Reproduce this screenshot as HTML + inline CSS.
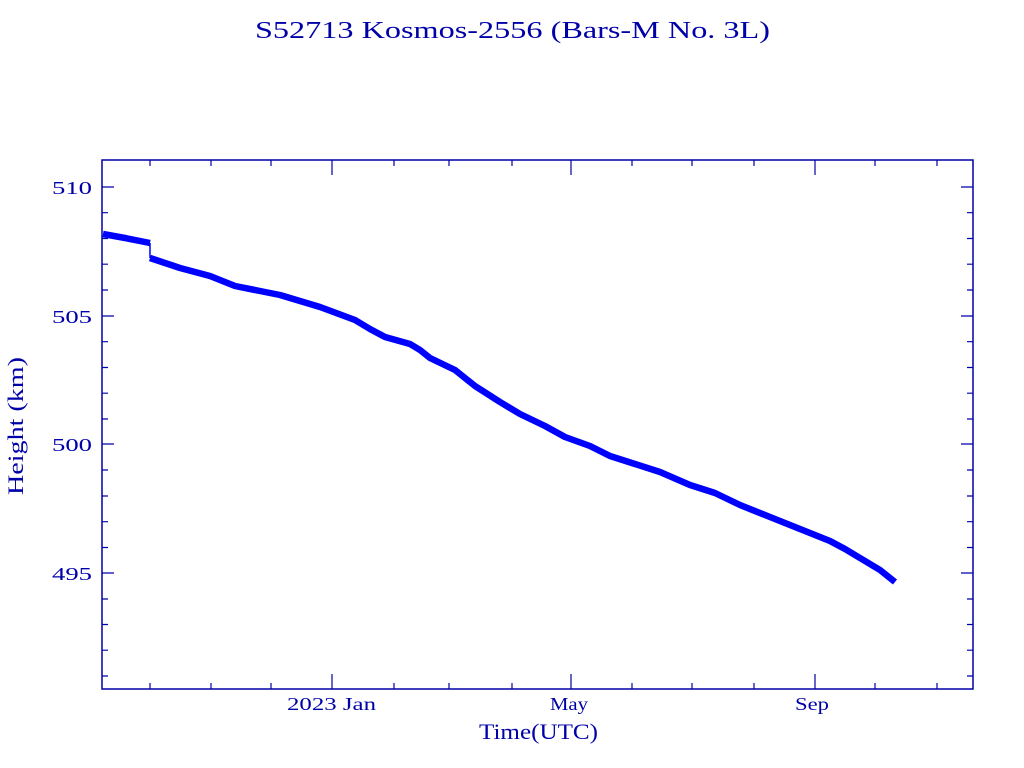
<!DOCTYPE html>
<html><head><meta charset="utf-8"><style>
html,body{margin:0;padding:0;background:#fff}
svg{display:block}
text{font-family:"Liberation Serif",serif;fill:#0000a8}
</style></head><body>
<svg width="1024" height="768" viewBox="0 0 1024 768" xmlns="http://www.w3.org/2000/svg">
<text x="255" y="38" font-size="24" textLength="515" lengthAdjust="spacingAndGlyphs" style="font-family:'Liberation Serif',serif">S52713 Kosmos-2556  (Bars-M No. 3L)</text>
<rect x="102" y="160" width="871" height="529" fill="none" stroke="#0000a8" stroke-width="1.5"/>
<g stroke="#0000a8" stroke-width="1.2">
<path d="M102 187h12M102 316h12M102 444h12M102 573h12 M973 187h-12M973 316h-12M973 444h-12M973 573h-12"/>
<path d="M102 212.7h6M102 238.5h6M102 264.2h6M102 290h6M102 341.7h6M102 367.5h6M102 393.2h6M102 419h6M102 470h6M102 496h6M102 521.7h6M102 547.5h6M102 599h6M102 624.5h6M102 650.2h6M102 676h6
M973 212.7h-6M973 238.5h-6M973 264.2h-6M973 290h-6M973 341.7h-6M973 367.5h-6M973 393.2h-6M973 419h-6M973 470h-6M973 496h-6M973 521.7h-6M973 547.5h-6M973 599h-6M973 624.5h-6M973 650.2h-6M973 676h-6"/>
<path d="M332 689v-15M571 689v-15M815 689v-15M332 160v15M571 160v15M815 160v15"/>
<path d="M150 689v-6M211 689v-6M271 689v-6M394 689v-6M449 689v-6M512 689v-6M632 689v-6M692 689v-6M754 689v-6M875 689v-6M937 689v-6
M150 160v6M211 160v6M271 160v6M394 160v6M449 160v6M512 160v6M632 160v6M692 160v6M754 160v6M875 160v6M937 160v6"/>
</g>
<g font-size="18">
<text x="52" y="194" textLength="40" lengthAdjust="spacingAndGlyphs">510</text>
<text x="52" y="323" textLength="40" lengthAdjust="spacingAndGlyphs">505</text>
<text x="52" y="451" textLength="40" lengthAdjust="spacingAndGlyphs">500</text>
<text x="52" y="580" textLength="40" lengthAdjust="spacingAndGlyphs">495</text>
<text x="287" y="710" textLength="89" lengthAdjust="spacingAndGlyphs">2023 Jan</text>
<text x="550" y="710" textLength="38" lengthAdjust="spacingAndGlyphs">May</text>
<text x="795" y="710" textLength="34" lengthAdjust="spacingAndGlyphs">Sep</text>
<text x="479" y="739" font-size="22" textLength="119" lengthAdjust="spacingAndGlyphs">Time(UTC)</text>
<text transform="translate(23,495) rotate(-90)" font-size="22" textLength="138" lengthAdjust="spacingAndGlyphs">Height (km)</text>
</g>
<g fill="none" stroke="#0000ff" stroke-width="6.5" stroke-linejoin="round">
<polyline points="103,234 125,238 150,243"/>
<polyline points="150,258 165,263 180,268 210,276 235,286 260,291 280,295 320,307 355,320 370,329 385,337 410,344 420,350 430,358 455,370 475,386 500,402 520,414 545,426 565,437 590,446 610,456 635,464 660,472 690,485 715,493 740,505 765,515 790,525 830,541 845,549 860,558 880,570 895,582"/>
</g>
<path d="M150 243V258" stroke="#0000ff" stroke-width="1.5"/>
</svg>
</body></html>
